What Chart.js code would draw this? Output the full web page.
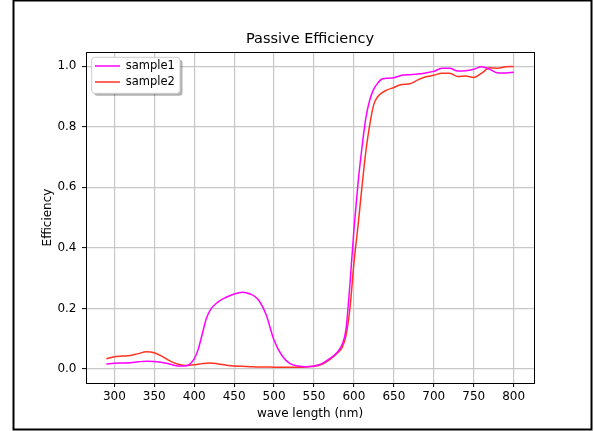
<!DOCTYPE html>
<html>
<head>
<meta charset="utf-8">
<title>Passive Efficiency</title>
<script src="https://cdn.jsdelivr.net/npm/chart.js@4/dist/chart.umd.min.js"></script>
<style>
    html, body { margin: 0; padding: 0; background: #fff; }
    canvas { display: block; }
</style>
</head>
<body>
<canvas id="effChart" width="594" height="431"></canvas>
<script>
// ---------------------------------------------------
// DATA
// ---------------------------------------------------
const wavelength = [290, 300, 310, 320, 330, 340, 350, 360, 370, 380, 390, 400, 405, 410, 415, 420, 430, 440, 450, 460, 470, 480,
    490, 500, 510, 520, 530, 540, 550, 560, 570, 580, 585, 590, 595, 600, 605, 610, 615, 620, 625, 630,
    635, 640, 650, 660, 670, 680, 690, 700, 710, 720, 730, 740, 750, 760, 770, 780, 790, 800];

const sample1 = [0.017, 0.019, 0.020, 0.021, 0.024, 0.026, 0.025, 0.022, 0.016, 0.010, 0.011, 0.034, 0.065, 0.115, 0.165, 0.195, 0.222, 0.237, 0.248, 0.254, 0.248, 0.230,
    0.180, 0.095, 0.044, 0.018, 0.010, 0.008, 0.010, 0.018, 0.035, 0.058, 0.080, 0.130, 0.280, 0.460, 0.610, 0.730, 0.830, 0.890, 0.925, 0.945,
    0.958, 0.960, 0.962, 0.970, 0.972, 0.974, 0.978, 0.983, 0.993, 0.993, 0.984, 0.985, 0.990, 0.998, 0.990, 0.978, 0.978, 0.980];

const sample2 = [0.034, 0.041, 0.043, 0.045, 0.051, 0.057, 0.054, 0.042, 0.026, 0.016, 0.012, 0.014, 0.016, 0.018, 0.0195, 0.020, 0.017, 0.013, 0.010, 0.009, 0.008, 0.007,
    0.007, 0.006, 0.006, 0.006, 0.006, 0.007, 0.009, 0.016, 0.032, 0.055, 0.070, 0.110, 0.200, 0.350, 0.470, 0.600, 0.720, 0.810, 0.875, 0.900,
    0.912, 0.920, 0.930, 0.940, 0.942, 0.955, 0.965, 0.970, 0.977, 0.977, 0.966, 0.968, 0.963, 0.977, 0.995, 0.993, 0.998, 0.999];

const xTicks = [300, 350, 400, 450, 500, 550, 600, 650, 700, 750, 800];
const yTicks = [0.0, 0.2, 0.4, 0.6, 0.8, 1.0];

const FONT = "'DejaVu Sans', 'Liberation Sans', sans-serif";

function toPoints(values) {
    return wavelength.map((w, i) => ({ x: w, y: values[i] }));
}

// ---------------------------------------------------
// PLUGIN: axes frame, legend box, outer border
// ---------------------------------------------------
const framePlugin = {
    id: "frame",
    beforeDraw(chart) {
        // move legend a little inside the plot, like matplotlib does
        const a = chart.chartArea;
        chart.legend.left = a.left + 4.5;
        chart.legend.top = a.top + 3.75;
    },
    afterDatasetsDraw(chart) {
        const ctx = chart.ctx;
        const a = chart.chartArea;

        // legend box with shadow
        const bx = a.left + 5.7, by = a.top + 5.3, bw = 88.3, bh = 36;
        ctx.save();
        ctx.fillStyle = "rgba(0,0,0,0.3)";
        ctx.beginPath();
        ctx.roundRect(bx + 2.5, by + 2.5, bw, bh, 3);
        ctx.fill();
        ctx.fillStyle = "#ffffff";
        ctx.strokeStyle = "#cccccc";
        ctx.lineWidth = 1;
        ctx.beginPath();
        ctx.roundRect(bx, by, bw, bh, 3);
        ctx.fill();
        ctx.stroke();
        ctx.restore();
        chart.legend.draw();

        // axes spines
        ctx.save();
        ctx.strokeStyle = "#000";
        ctx.lineWidth = 1;
        ctx.strokeRect(Math.round(a.left) + 0.5, Math.round(a.top) + 0.5,
            Math.round(a.right - a.left), Math.round(a.bottom - a.top));

        // outer figure border
        ctx.lineWidth = 2;
        ctx.strokeRect(13.5, 0.5, 578, 429);
        ctx.restore();
    }
};

// ---------------------------------------------------
// CHART
// ---------------------------------------------------
const ctx = document.getElementById("effChart");

new Chart(ctx, {
    type: "line",
    data: {
        datasets: [
            {
                label: "sample1",
                data: toPoints(sample1),
                borderColor: "#ff00ff",
                backgroundColor: "#ff00ff",
                borderWidth: 1.5,
                pointRadius: 0,
                cubicInterpolationMode: "monotone",
                fill: false
            },
            {
                label: "sample2",
                data: toPoints(sample2),
                borderColor: "#ff3322",
                backgroundColor: "#ff3322",
                borderWidth: 1.5,
                pointRadius: 0,
                cubicInterpolationMode: "monotone",
                fill: false
            }
        ]
    },
    options: {
        responsive: false,
        animation: false,
        devicePixelRatio: 1,
        layout: { padding: { left: 0, right: 60, top: 0, bottom: 0 } },
        plugins: {
            title: {
                display: true,
                text: "Passive Efficiency",
                fullSize: false,
                color: "#000",
                font: { family: FONT, size: 14.5, weight: "normal" },
                padding: { top: 30.8, bottom: 3.8 }
            },
            legend: {
                position: "chartArea",
                align: "start",
                labels: {
                    color: "#000",
                    font: { family: FONT, size: 11.5 },
                    usePointStyle: true,
                    pointStyle: "line",
                    pointStyleWidth: 25,
                    padding: 4.5
                }
            },
            tooltip: { enabled: false }
        },
        scales: {
            x: {
                type: "linear",
                min: 264.5,
                max: 825.5,
                afterFit: s => { s.height = 48; },
                afterBuildTicks: s => { s.ticks = xTicks.map(v => ({ value: v })); },
                border: { display: false },
                grid: {
                    color: "#c8c8c8",
                    lineWidth: 1.2,
                    tickColor: "#000",
                    tickLength: 4,
                    tickWidth: 1
                },
                ticks: {
                    color: "#000",
                    font: { family: FONT, size: 12 },
                    padding: 3,
                    maxRotation: 0,
                    callback: v => String(v)
                },
                title: {
                    display: true,
                    text: "wave length (nm)",
                    color: "#000",
                    font: { family: FONT, size: 12 },
                    padding: { top: 0, bottom: 9.8 }
                }
            },
            y: {
                type: "linear",
                min: -0.046,
                max: 1.047,
                afterFit: s => { s.width = 86; },
                afterBuildTicks: s => { s.ticks = yTicks.map(v => ({ value: v })); },
                border: { display: false },
                grid: {
                    color: "#c8c8c8",
                    lineWidth: 1.2,
                    tickColor: "#000",
                    tickLength: 4,
                    tickWidth: 1
                },
                ticks: {
                    color: "#000",
                    font: { family: FONT, size: 12 },
                    padding: 5.5,
                    callback: v => v.toFixed(1)
                },
                title: {
                    display: true,
                    text: "Efficiency",
                    color: "#000",
                    font: { family: FONT, size: 12 },
                    padding: { top: 40.5, bottom: 0 }
                }
            }
        }
    },
    plugins: [framePlugin]
});
</script>
</body>
</html>
